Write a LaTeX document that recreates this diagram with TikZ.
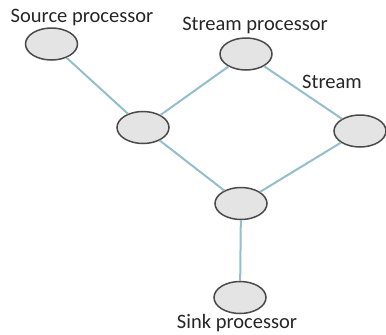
\documentclass[tikz,border=0pt]{standalone}
\usepackage{fontspec}
\setmainfont{Carlito}
\usetikzlibrary{shapes.geometric}
\definecolor{edgec}{HTML}{94BECE}
\definecolor{fillc}{HTML}{E4E4E4}
\definecolor{bordc}{HTML}{4A4A4A}
\tikzset{
  proc/.style={ellipse, draw=bordc, fill=fillc, line width=1.5pt, minimum width=52pt, minimum height=32pt, inner sep=0pt},
  lbl/.style={inner sep=0pt, font=\fontsize{20.5}{23}\selectfont, text=black!85},
  link/.style={draw=edgec, line width=2pt}
}
\begin{document}
\begin{tikzpicture}[x=1pt,y=-1pt]
\useasboundingbox (0,0) rectangle (386,335);
\node[proc] (src) at (51.5,44) {};
\node[proc] (sp) at (246,54) {};
\node[proc] (ml) at (143,127.5) {};
\node[proc] (rt) at (360,131) {};
\node[proc] (bc) at (241,203.5) {};
\node[proc] (sk) at (240,297.5) {};
\draw[link] (src) -- (ml);
\draw[link] (ml) -- (sp);
\draw[link] (sp) -- (rt);
\draw[link] (ml) -- (bc);
\draw[link] (rt) -- (bc);
\draw[link] (bc) -- (sk);
\node[lbl] (tsrc) at (82,17) {Source processor};
\node[lbl] (tsp) at (255,25) {Stream processor};
\node[lbl] (tst) at (332,82) {Stream};
\node[lbl] (tsk) at (237,323) {Sink processor};
\end{tikzpicture}
\end{document}
